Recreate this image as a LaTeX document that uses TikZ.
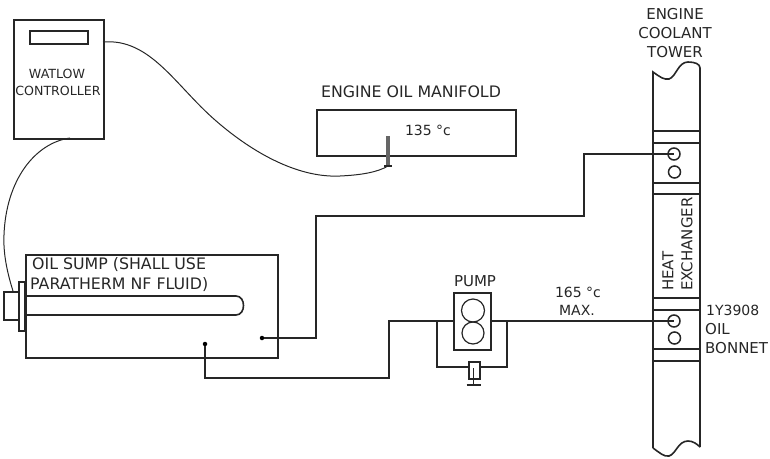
\documentclass[tikz,border=0pt]{standalone}
\usepackage{fontspec}
\setmainfont{DejaVu Sans}
\usetikzlibrary{calc}
\tikzset{
  box/.style={draw=black!85,line width=1.6pt,inner sep=0pt,minimum width=#1},
  ln/.style={draw=black!85,line width=1.6pt},
  thin ln/.style={draw=black!85,line width=1pt},
  lab/.style={inner sep=0pt,text=black!85,font=\fontsize{15}{18}\selectfont},
  labl/.style={inner sep=0pt,text=black!85,font=\fontsize{15.8}{18}\selectfont},
  labm/.style={inner sep=0pt,text=black!85,font=\fontsize{14}{16}\selectfont},
  labs/.style={inner sep=0pt,text=black!85,font=\fontsize{12.6}{16}\selectfont},
  dot/.style={circle,fill=black,inner sep=0pt,minimum size=4.5pt},
  port/.style={circle,draw=black!85,line width=1.5pt,inner sep=0pt,minimum size=12pt}
}
\newcommand{\bx}[5]{\node[box=#4 pt,minimum height=#5 pt,anchor=north west] (#1) at (#2,#3) {};}
\begin{document}
\begin{tikzpicture}[x=1pt,y=-1pt]
\useasboundingbox (0,0) rectangle (770,458);
% controller
\bx{ctrl}{13}{19}{90}{119}
\bx{disp}{29}{30}{58}{13}
\node[labs] (t1) at (57,74) {WATLOW};
\node[labs] (t2) at (58,91) {CONTROLLER};
% manifold
\bx{mani}{316}{109}{199}{46}
\node[labl] (t3) at (411,92) {ENGINE OIL MANIFOLD};
\node[labm] (t4) at (428,130) {135 °c};
\coordinate (probeTop) at (388,136);
\coordinate (probeEnd) at (388,166);
\draw[draw=black!60,line width=3.2pt] (probeTop) -- (probeEnd);
\draw[ln,line width=1.2pt] ($(probeEnd)+(-4,0)$) -- ($(probeEnd)+(4,0)$);
% sump
\bx{sump}{25}{254}{252}{103}
\bx{block}{3}{291}{15}{28}
\bx{flange}{18}{281}{6}{49}
\node[labl,anchor=base west] (t5) at (32,269) {OIL SUMP (SHALL USE};
\node[labl,anchor=base west] (t6) at (30,289) {PARATHERM NF FLUID)};
\coordinate (heatA) at (25,296);
\coordinate (heatB) at (25,315);
\draw[ln] (heatA) -- (236,296) .. controls (246,296) and (246,315) .. (236,315) -- (heatB);
\node[dot] (d1) at (262,338) {};
\node[dot] (d2) at (205,344) {};
% pump
\bx{pump}{453}{292}{37}{57}
\node[lab] (t7) at (475,281) {PUMP};
\node[circle,draw=black!85,line width=1.2pt,minimum size=23pt,inner sep=0pt] (c1) at (473,310.5) {};
\node[circle,draw=black!85,line width=1.2pt,minimum size=22pt,inner sep=0pt] (c2) at (473,333) {};
\bx{valve}{468}{361}{11}{17}
\coordinate (valveEnd) at (473.5,385);
\coordinate (valveIn) at (473.5,368);
\draw[ln] (valveIn) -- (valveEnd);
\draw[ln] ($(valveEnd)+(-7,0)$) -- ($(valveEnd)+(7,0)$);
\coordinate (pumpIn) at (453,321);
\coordinate (pumpOut) at (490,321);
\coordinate (tapL) at (437,321);
\coordinate (tapR) at (507,321);
\coordinate (vL) at (468,367);
\coordinate (vR) at (479,367);
\draw[ln] (tapL) |- (vL);
\draw[ln] (vR) -| (tapR);
\node[labm] (t8) at (578,292) {165 °c};
\node[labm] (t9) at (577,310) {MAX.};
% tower
\coordinate (twTL) at (653,72);
\coordinate (twTR) at (700,68);
\coordinate (twBL) at (653,448);
\coordinate (twBR) at (700,447);
\draw[ln] (twBL) -- (twTL) .. controls (660,77) and (664,80) .. (669,79) .. controls (676,77) and (678,62) .. (688,62) .. controls (695,62) and (700,64) .. (twTR) -- (twBR);
\draw[ln] (twBL) .. controls (660,453) and (664,457) .. (669,456) .. controls (676,454) and (678,441) .. (688,441) .. controls (693,441) and (697,444) .. (twBR);
\foreach \yy in {131,143,183,194,298,310,349,361} \draw[ln] (653,\yy) -- (700,\yy);
\node[port] (p1) at (674,154) {};
\node[port] (p2) at (674.5,172) {};
\node[port] (p3) at (674,321) {};
\node[port] (p4) at (674.5,338) {};
\node[lab,rotate=90,anchor=west] (t10) at (668,291) {HEAT};
\node[lab,rotate=90,anchor=west] (t11) at (687,291) {EXCHANGER};
\node[lab] (t12) at (675,14) {ENGINE};
\node[lab] (t13) at (675,33) {COOLANT};
\node[lab] (t14) at (675,52) {TOWER};
\node[labm,anchor=west] (t15) at (706,310) {1Y3908};
\node[lab,anchor=west] (t16) at (705,329) {OIL};
\node[lab,anchor=west] (t17) at (705,348) {BONNET};
% piping
\coordinate (r1) at (316,216);
\coordinate (r2) at (584,154);
\draw[ln] (d1) -| (r1) -| (r2) -- (p1.center);
\coordinate (r3) at (205,378);
\coordinate (r4) at (389,321);
\draw[ln] (d2) -- (r3) -| (r4) -- (pumpIn);
\draw[ln] (pumpOut) -- (p3.center);
% wires
\coordinate (w1) at (103,42);
\coordinate (w2) at (70,138);
\coordinate (w3) at (13,291);
\draw[thin ln] (w1) .. controls (150,38) and (175,85) .. (215,120) .. controls (255,155) and (300,178) .. (340,176) .. controls (362,175) and (378,172) .. (probeEnd);
\draw[thin ln] (w2) .. controls (35,143) and (6,180) .. (4,235) .. controls (3,255) and (8,275) .. (w3);
\end{tikzpicture}
\end{document}
